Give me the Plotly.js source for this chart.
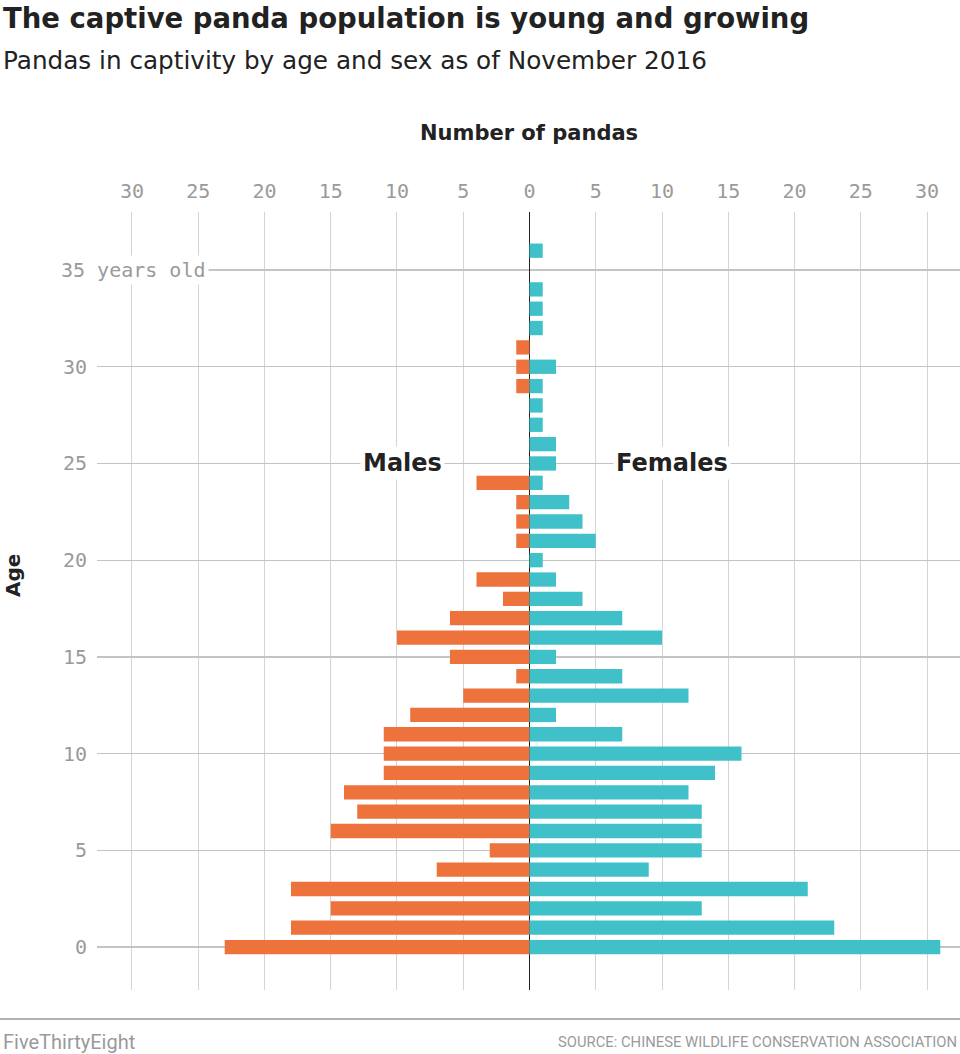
<!DOCTYPE html>
<html>
<head>
<meta charset="utf-8">
<script src="https://cdn.plot.ly/plotly-3.0.1.min.js"></script>
<style>
  html, body { margin: 0; padding: 0; background: #ffffff; }
  #chart { width: 960px; height: 1054px; }
</style>
</head>
<body>
<div id="chart"></div>
<script>
// Ages 0..36
const ages = [0,1,2,3,4,5,6,7,8,9,10,11,12,13,14,15,16,17,18,19,20,21,22,23,24,25,26,27,28,29,30,31,32,33,34,35,36];
const males = [23,18,15,18,7,3,15,13,14,11,11,11,9,5,1,6,10,6,2,4,0,1,1,1,4,0,0,0,0,1,1,1,0,0,0,0,0];
const females = [31,23,13,21,9,13,13,13,12,14,16,7,2,12,7,2,10,7,4,2,1,5,4,3,1,2,2,1,1,1,2,0,1,1,1,0,1];
const xTickVals = [-30,-25,-20,-15,-10,-5,0,5,10,15,20,25,30];
const xTickText = ['30','25','20','15','10','5','0','5','10','15','20','25','30'];
const yTickVals = [0,5,10,15,20,25,30,35];
const yTickText = ['0','5','10','15','20','25','30',''];

const ORANGE = '#ED723C';
const TEAL = '#40C1C9';
const monoFont = 'DejaVu Sans Mono, Liberation Mono, monospace';
const sansFont = 'Roboto, Liberation Sans, Arial, sans-serif';
const wideFont = 'DejaVu Sans, Verdana, sans-serif';

const traces = [
  {
    type: 'bar', orientation: 'h',
    y: ages, x: males.map(v => -v),
    marker: { color: ORANGE, line: { width: 0 } },
    name: 'Males', hoverinfo: 'skip'
  },
  {
    type: 'bar', orientation: 'h',
    y: ages, x: females,
    marker: { color: TEAL, line: { width: 0 } },
    name: 'Females', hoverinfo: 'skip'
  }
];

// pixel helpers (plot area: x 97..960, y 212..990)
const L = 97, R = 960, T = 212, B = 990;
const px = x => (x - L) / (R - L);
const py = y => (B - y) / (B - T);

const layout = {
  width: 960, height: 1054,
  margin: { l: L, r: 960 - R, t: T, b: 1054 - B },
  paper_bgcolor: '#ffffff', plot_bgcolor: 'rgba(0,0,0,0)',
  showlegend: false,
  barmode: 'overlay',
  bargap: 0.26,
  xaxis: {
    side: 'top',
    range: [-32.64, 32.49],
    tickvals: xTickVals, ticktext: xTickText,
    showgrid: true, gridcolor: '#d4d4d4', gridwidth: 1,
    zeroline: true, zerolinecolor: '#222222', zerolinewidth: 1.5,
    ticks: '', ticklabelstandoff: 9,
    tickfont: { family: monoFont, size: 20, color: '#9a9a9a' },
    showline: false, fixedrange: true
  },
  yaxis: {
    range: [-2.22, 38.0],
    tickvals: yTickVals, ticktext: yTickText,
    showgrid: true, gridcolor: '#c4c4c4', gridwidth: 1.2,
    zeroline: false,
    ticks: '', ticklabelstandoff: 9,
    tickfont: { family: monoFont, size: 20, color: '#9a9a9a' },
    showline: false, fixedrange: true
  },
  shapes: [
    { type: 'line', xref: 'paper', yref: 'paper',
      x0: px(0), x1: px(960), y0: py(1019), y1: py(1019),
      line: { color: '#b3b3b3', width: 2 } }
  ],
  annotations: [
    { xref: 'paper', yref: 'paper', x: px(1), y: py(18), xanchor: 'left', yanchor: 'middle',
      text: '<b>The captive panda population is young and growing</b>', showarrow: false,
      font: { family: wideFont, size: 27.5, color: '#222222' } },
    { xref: 'paper', yref: 'paper', x: px(1), y: py(60), xanchor: 'left', yanchor: 'middle',
      text: 'Pandas in captivity by age and sex as of November 2016', showarrow: false,
      font: { family: wideFont, size: 24.7, color: '#222222' } },
    { xref: 'paper', yref: 'paper', x: px(529), y: py(133), xanchor: 'center', yanchor: 'middle',
      text: '<b>Number of pandas</b>', showarrow: false,
      font: { family: wideFont, size: 21, color: '#222222' } },
    { xref: 'paper', yref: 'paper', x: px(13), y: py(576), xanchor: 'center', yanchor: 'middle',
      text: '<b>Age</b>', textangle: -90, showarrow: false,
      font: { family: wideFont, size: 20, color: '#222222' } },
    { xref: 'paper', yref: 'y', x: px(58), y: 35, xanchor: 'left', yanchor: 'middle',
      text: '35 years old', showarrow: false, bgcolor: '#ffffff', borderpad: 2,
      font: { family: monoFont, size: 20, color: '#9a9a9a' } },
    { xref: 'x', yref: 'y', x: -9.6, y: 25, xanchor: 'center', yanchor: 'middle',
      text: '<b>Males</b>', showarrow: false, bgcolor: '#ffffff', borderpad: 2,
      font: { family: wideFont, size: 24, color: '#222222' } },
    { xref: 'x', yref: 'y', x: 10.75, y: 25, xanchor: 'center', yanchor: 'middle',
      text: '<b>Females</b>', showarrow: false, bgcolor: '#ffffff', borderpad: 2,
      font: { family: wideFont, size: 24, color: '#222222' } },
    { xref: 'paper', yref: 'paper', x: px(1), y: py(1042), xanchor: 'left', yanchor: 'middle',
      text: 'FiveThirtyEight', showarrow: false,
      font: { family: sansFont, size: 20, color: '#9a9a9a' } },
    { xref: 'paper', yref: 'paper', x: px(959), y: py(1042), xanchor: 'right', yanchor: 'middle',
      text: 'SOURCE: CHINESE WILDLIFE CONSERVATION ASSOCIATION', showarrow: false,
      font: { family: sansFont, size: 14.8, color: '#9a9a9a' } }
  ]
};

Plotly.newPlot('chart', traces, layout, { displayModeBar: false, staticPlot: true });
</script>
</body>
</html>
